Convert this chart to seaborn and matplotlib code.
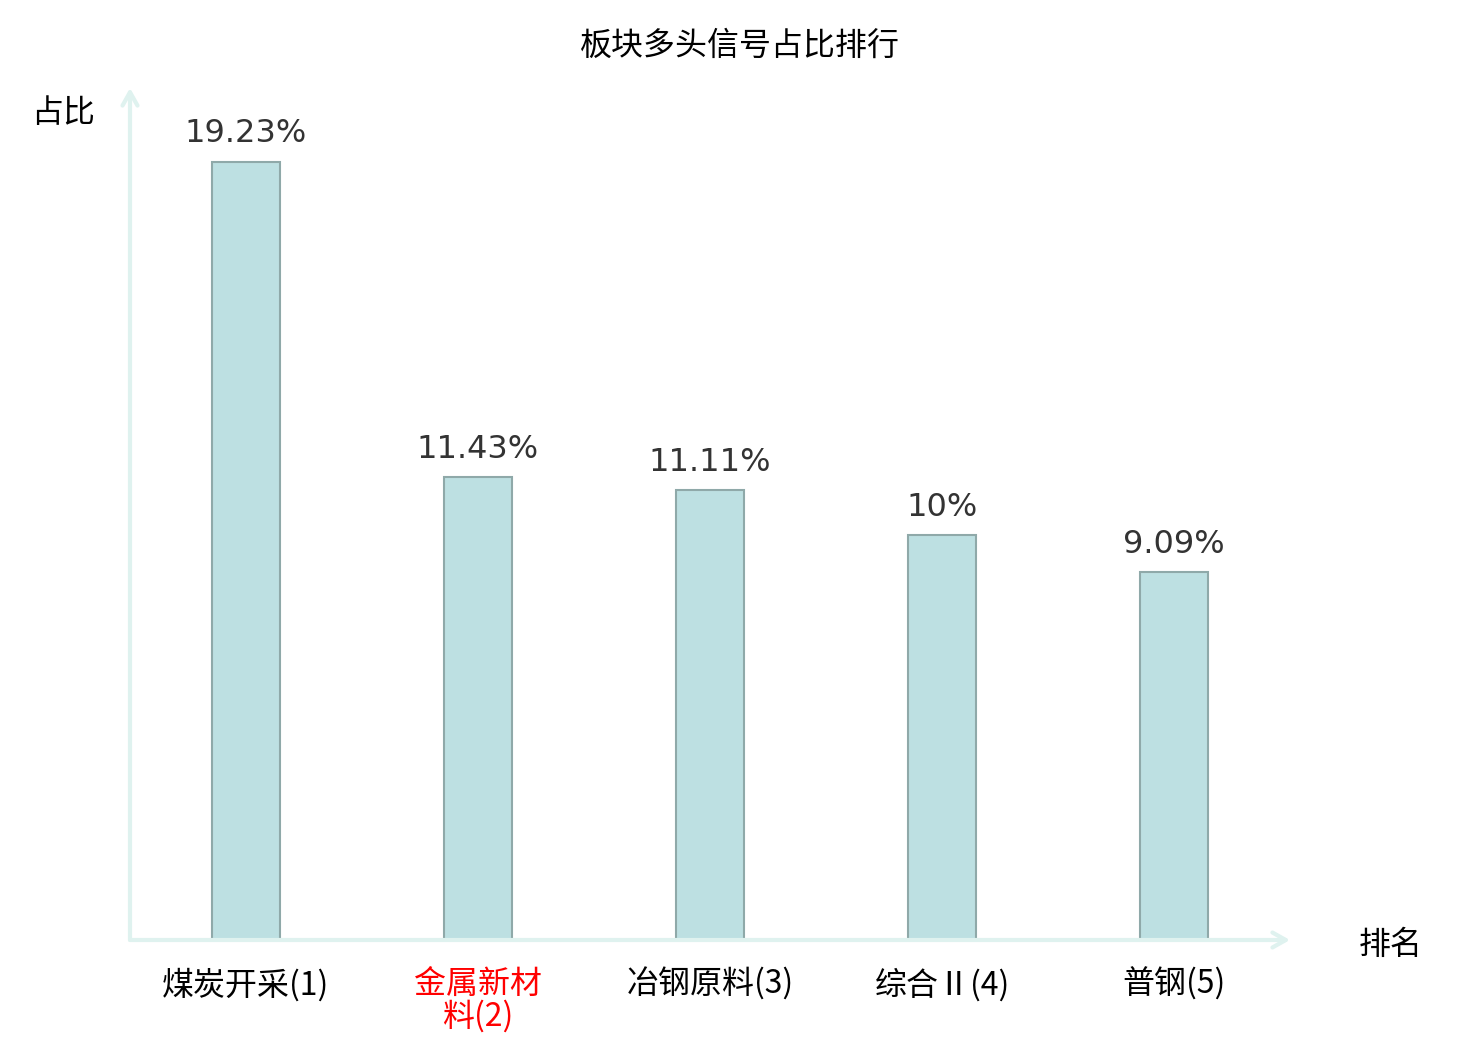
import matplotlib
matplotlib.use("Agg")
import matplotlib.pyplot as plt
import pandas as pd
import seaborn as sns

# 数据
categories = ['煤炭开采(1)', '金属新材\n料(2)', '冶钢原料(3)', '综合Ⅱ(4)', '普钢(5)']
values = [19.23, 11.43, 11.11, 10.0, 9.09]
value_labels = ['19.23%', '11.43%', '11.11%', '10%', '9.09%']
label_colors = ['black', 'red', 'black', 'black', 'black']

df = pd.DataFrame({'name': categories, 'value': values})

sns.set_theme(style='white')
plt.rcParams['font.family'] = ['Noto Sans CJK SC', 'DejaVu Sans']

fig = plt.figure(figsize=(14.8, 10.4), dpi=100)
ax = fig.add_axes([130 / 1480, 100 / 1040, 1160 / 1480, 852 / 1040])

sns.barplot(data=df, x='name', y='value', ax=ax, width=0.293,
            color='#bde0e2', saturation=1, edgecolor='#8fa9a9', linewidth=1.5)

ax.set_xlim(-0.5, 4.5)
ax.set_ylim(0, 21.05)

for s in ax.spines.values():
    s.set_visible(False)
ax.set_yticks([])
ax.tick_params(axis='x', length=0, pad=20, labelsize=23)
ax.set_xlabel('')
ax.set_ylabel('')
for lbl, c in zip(ax.get_xticklabels(), label_colors):
    lbl.set_color(c)
    lbl.set_linespacing(1.0)

# 坐标轴箭头
axis_col = '#dff2ef'
ax.annotate('', xy=(1, 0), xytext=(0, 0), xycoords='axes fraction',
            arrowprops=dict(arrowstyle='->, head_length=0.8, head_width=0.45',
                            color=axis_col, lw=3, shrinkA=0, shrinkB=0),
            annotation_clip=False)
ax.annotate('', xy=(0, 1), xytext=(0, 0), xycoords='axes fraction',
            arrowprops=dict(arrowstyle='->, head_length=0.8, head_width=0.45',
                            color=axis_col, lw=3, shrinkA=0, shrinkB=0),
            annotation_clip=False)

# 数值标签
for i, (v, t) in enumerate(zip(values, value_labels)):
    ax.annotate(t, xy=(i, v), xytext=(0, 9), textcoords='offset points',
                ha='center', va='bottom', fontsize=23, color='#333333',
                family='DejaVu Sans')

fig.text(740 / 1480, 1 - 46 / 1040, '板块多头信号占比排行', ha='center', va='center',
         fontsize=23, color='black')
fig.text(63 / 1480, 1 - 113 / 1040, '占比', ha='center', va='center',
         fontsize=23, color='black')
fig.text(1391 / 1480, 1 - 945 / 1040, '排名', ha='center', va='center',
         fontsize=23, color='black')

fig.savefig('out.png', dpi=100)
